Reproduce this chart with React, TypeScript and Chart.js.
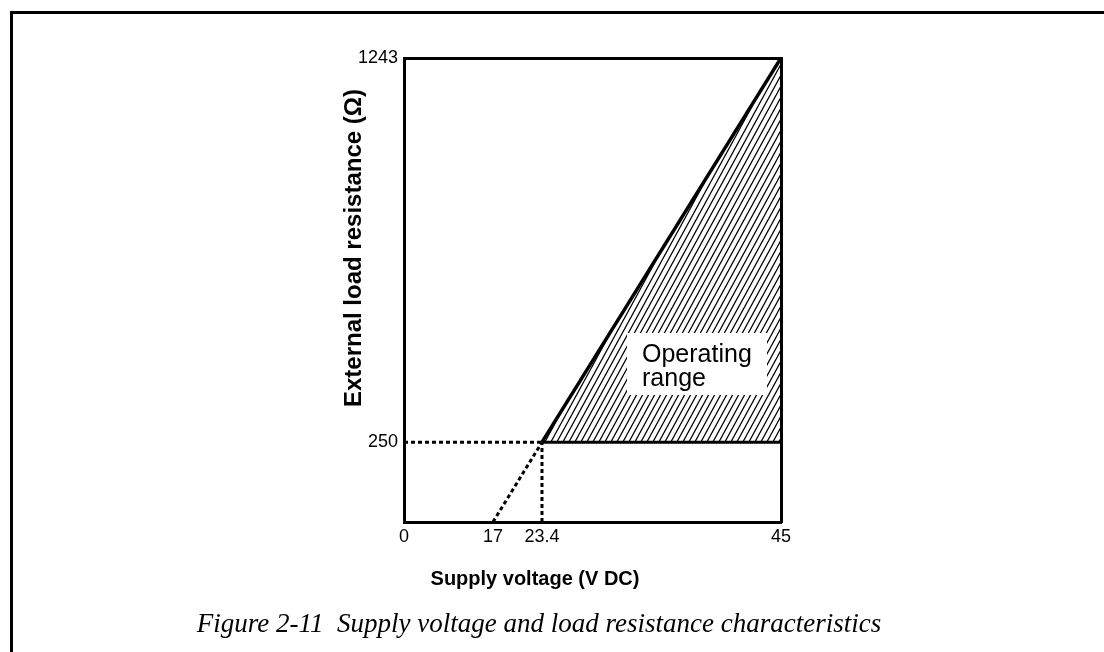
import React, { useEffect, useRef } from 'react';
import { Chart, registerables, LinearScale } from 'chart.js';

// ---- data ----
const voltageTicks = [0, 17, 23.4, 45];
const resistanceTicks = [250, 1243];

const operatingRangeVoltage = [23.4, 45, 45];
const operatingRangeLoad = [250, 1243, 250];

const maxLoadVoltage = [23.4, 45];
const maxLoadLoad = [250, 1243];

const minLoadVoltage = [23.4, 45];
const minLoadLoad = [250, 250];

const extrapolationVoltage = [17, 23.4];
const extrapolationLoad = [0, 250];

const loadGuideVoltage = [0, 23.4];
const loadGuideLoad = [250, 250];

const voltageGuideVoltage = [23.4, 23.4];
const voltageGuideLoad = [0, 250];

const xTitle = 'Supply voltage (V DC)';
const yTitle = 'External load resistance (\u03A9)';
const caption = 'Figure 2-11  Supply voltage and load resistance characteristics';
const rangeLabel = ['Operating', 'range'];

// A not-to-scale (schematic) axis: piecewise linear between stop values.
class SchematicScale extends LinearScale {
  static id = 'schematic';
  static defaults = LinearScale.defaults;
  stops(): [number[], number[]] {
    const o: any = this.options;
    return [o.stopValues as number[], o.stopFractions as number[]];
  }
  getPixelForValue(value: number) {
    if (value === null || value === undefined || isNaN(value)) return NaN;
    const [vs, fs] = this.stops();
    let i = 0;
    while (i < vs.length - 2 && value > vs[i + 1]) i++;
    const t = (value - vs[i]) / (vs[i + 1] - vs[i]);
    return this.getPixelForDecimal(fs[i] + t * (fs[i + 1] - fs[i]));
  }
  getValueForPixel(pixel: number) {
    const d = this.getDecimalForPixel(pixel);
    const [vs, fs] = this.stops();
    let i = 0;
    while (i < fs.length - 2 && d > fs[i + 1]) i++;
    const t = (d - fs[i]) / (fs[i + 1] - fs[i]);
    return vs[i] + t * (vs[i + 1] - vs[i]);
  }
}

Chart.register(...registerables, SchematicScale as any);

const pts = (xs: number[], ys: number[]) => xs.map((x, i) => ({ x, y: ys[i] }));

function makeHatch(ctx: CanvasRenderingContext2D): CanvasPattern | string {
  const w = 6, h = 11;
  const c = document.createElement('canvas');
  c.width = w;
  c.height = h;
  const g = c.getContext('2d');
  if (!g) return '#888';
  g.strokeStyle = '#000';
  g.lineWidth = 1.3;
  g.beginPath();
  for (const k of [0, 1, 2]) {
    g.moveTo(k * w + w, -h);
    g.lineTo(k * w - 2 * w, 2 * h);
  }
  g.stroke();
  return ctx.createPattern(c, 'repeat') || '#888';
}

const tickFont = { family: "'Liberation Sans', Arial, sans-serif", size: 18 };

export default function App() {
  const ref = useRef<HTMLCanvasElement | null>(null);

  useEffect(() => {
    const canvas = ref.current;
    if (!canvas) return;
    const ctx = canvas.getContext('2d')!;
    const hatch = makeHatch(ctx);

    const dotted = { borderColor: '#000', borderWidth: 3, borderDash: [4, 3], pointRadius: 0, showLine: true, fill: false };

    const decor = {
      id: 'decor',
      beforeDraw(chart: any) {
        const c = chart.ctx;
        c.save();
        c.fillStyle = '#fff';
        c.fillRect(0, 0, chart.width, chart.height);
        c.strokeStyle = '#000';
        c.lineWidth = 3;
        c.beginPath();
        c.moveTo(11.5, chart.height);
        c.lineTo(11.5, 12.5);
        c.lineTo(chart.width, 12.5);
        c.stroke();
        c.restore();
      },
      afterDatasetsDraw(chart: any) {
        const c = chart.ctx;
        const right = chart.chartArea.right - 14;
        c.save();
        c.fillStyle = '#fff';
        c.fillRect(right - 140, 333, 140, 62);
        c.fillStyle = '#000';
        c.font = "25px 'Liberation Sans', Arial, sans-serif";
        c.textAlign = 'left';
        c.textBaseline = 'alphabetic';
        c.fillText(rangeLabel[0], right - 125, 362);
        c.fillText(rangeLabel[1], right - 125, 386);
        c.restore();
      },
      afterDraw(chart: any) {
        const c = chart.ctx;
        c.save();
        c.fillStyle = '#000';
        c.textBaseline = 'alphabetic';
        c.textAlign = 'center';
        c.font = "bold 24px 'Liberation Sans', Arial, sans-serif";
        c.translate(361, 248);
        c.rotate(-Math.PI / 2);
        c.fillText(yTitle, 0, 0);
        c.restore();
        c.save();
        c.fillStyle = '#000';
        c.textBaseline = 'alphabetic';
        c.textAlign = 'center';
        c.font = "bold 20px 'Liberation Sans', Arial, sans-serif";
        c.fillText(xTitle, 535, 585);
        c.font = "italic 27px 'Liberation Serif', 'Times New Roman', serif";
        c.fillText(caption, 539, 632);
        c.restore();
      },
    };

    const chart = new Chart(ctx, {
      type: 'scatter',
      data: {
        datasets: [
          { label: 'Max load', data: pts(maxLoadVoltage, maxLoadLoad), borderColor: '#000', borderWidth: 3.5, pointRadius: 0, showLine: true, fill: false },
          { label: 'Min load', data: pts(minLoadVoltage, minLoadLoad), borderColor: '#000', borderWidth: 3, pointRadius: 0, showLine: true, fill: false },
          { label: 'Extrapolation', data: pts(extrapolationVoltage, extrapolationLoad), ...dotted },
          { label: 'Load guide', data: pts(loadGuideVoltage, loadGuideLoad), ...dotted },
          { label: 'Voltage guide', data: pts(voltageGuideVoltage, voltageGuideLoad), ...dotted },
          { label: 'Operating range', data: pts(operatingRangeVoltage, operatingRangeLoad), borderWidth: 0, borderColor: 'rgba(0,0,0,0)', backgroundColor: hatch as any, pointRadius: 0, showLine: true, fill: 'shape' },
        ] as any,
      },
      options: {
        animation: false,
        responsive: false,
        devicePixelRatio: 1,
        layout: { padding: { left: 344, right: 323, top: 58, bottom: 90 } },
        plugins: { legend: { display: false }, tooltip: { enabled: false } },
        events: [],
        scales: {
          x: {
            type: 'schematic' as any,
            position: 'bottom',
            min: 0,
            max: 45,
            stopValues: voltageTicks,
            stopFractions: [0, 0.236, 0.366, 1],
            afterBuildTicks: (s: any) => { s.ticks = voltageTicks.map((v) => ({ value: v })); },
            afterFit: (s: any) => { s.height = 40; },
            grid: { display: false, drawTicks: false },
            border: { display: true, width: 3, color: '#000' },
            ticks: { font: tickFont, color: '#000', padding: 4, autoSkip: false, maxRotation: 0, callback: (v: any) => String(v) },
          } as any,
          y: {
            type: 'schematic' as any,
            position: 'left',
            min: 0,
            max: 1243,
            stopValues: [0, 250, 1243],
            stopFractions: [0, 0.172, 1],
            afterBuildTicks: (s: any) => { s.ticks = resistanceTicks.map((v) => ({ value: v })); },
            afterFit: (s: any) => { s.width = 60; },
            grid: { display: false, drawTicks: false },
            border: { display: true, width: 3, color: '#000' },
            ticks: { font: tickFont, color: '#000', padding: 6, autoSkip: false, callback: (v: any) => String(v) },
          } as any,
          x2: {
            type: 'linear',
            position: 'top',
            min: 0,
            max: 45,
            afterFit: (s: any) => { s.height = 0; },
            grid: { display: false, drawTicks: false },
            border: { display: true, width: 3, color: '#000' },
            ticks: { display: false },
          } as any,
          y2: {
            type: 'linear',
            position: 'right',
            min: 0,
            max: 1243,
            afterFit: (s: any) => { s.width = 0; },
            grid: { display: false, drawTicks: false },
            border: { display: true, width: 3, color: '#000' },
            ticks: { display: false },
          } as any,
        },
      } as any,
      plugins: [decor as any],
    });
    return () => chart.destroy();
  }, []);

  return (
    <div style={{ position: 'absolute', left: 0, top: 0, width: 1104, height: 652, background: '#fff' }}>
      <canvas ref={ref} width={1104} height={652} style={{ display: 'block' }} />
    </div>
  );
}
